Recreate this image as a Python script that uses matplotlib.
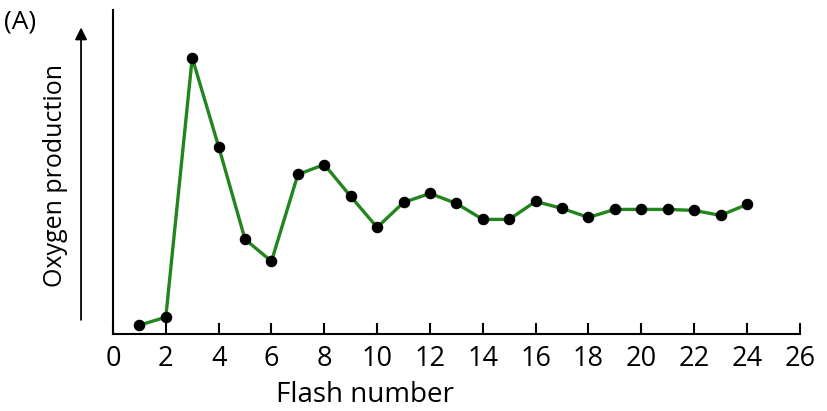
import matplotlib.pyplot as plt

plt.rcParams['font.family'] = ['Open Sans', 'DejaVu Sans']

# oxygen yield per flash (arbitrary units)
flash = list(range(1, 25))
oxygen = [9, 17, 277, 188, 95, 73, 160, 170, 138, 107, 132, 141,
          131, 115, 115, 133, 126, 117, 125, 125, 125, 124, 119, 130]
xticks = list(range(0, 28, 2))

fig = plt.figure(figsize=(8.27, 4.11), dpi=100)
ax = fig.add_axes([0.1366, 0.187, 0.8305, 0.789])

ax.plot(flash, oxygen, color='#23851d', lw=2.4, zorder=2)
ax.plot(flash, oxygen, 'o', color='black', ms=7.3, zorder=3)

ax.set_xlim(0, 26)
ax.set_ylim(0, 325)
ax.spines['top'].set_visible(False)
ax.spines['right'].set_visible(False)
ax.spines['left'].set_linewidth(1.5)
ax.spines['bottom'].set_linewidth(1.5)

ax.set_xticks(xticks)
ax.set_xticklabels([str(t) for t in xticks])
ax.tick_params(axis='x', direction='in', length=8, width=1.5, pad=8,
               labelsize=19.5)
ax.set_yticks([])

ax.set_xlabel('Flash number', fontsize=20)
ax.xaxis.set_label_coords(0.367, -0.145)

# y label with an arrow beside it instead of ticks
fig.text(0.067, 0.572, 'Oxygen production', rotation=90,
         ha='center', va='center', fontsize=18)
fig.add_artist(plt.Annotation('', xy=(0.098, 0.94), xytext=(0.098, 0.215),
                              xycoords='figure fraction',
                              arrowprops=dict(arrowstyle='-|>', color='black',
                                              lw=1.3, mutation_scale=18)))
fig.text(0.005, 0.947, '(A)', fontsize=19, ha='left', va='center')

fig.savefig('out.png', dpi=100)
